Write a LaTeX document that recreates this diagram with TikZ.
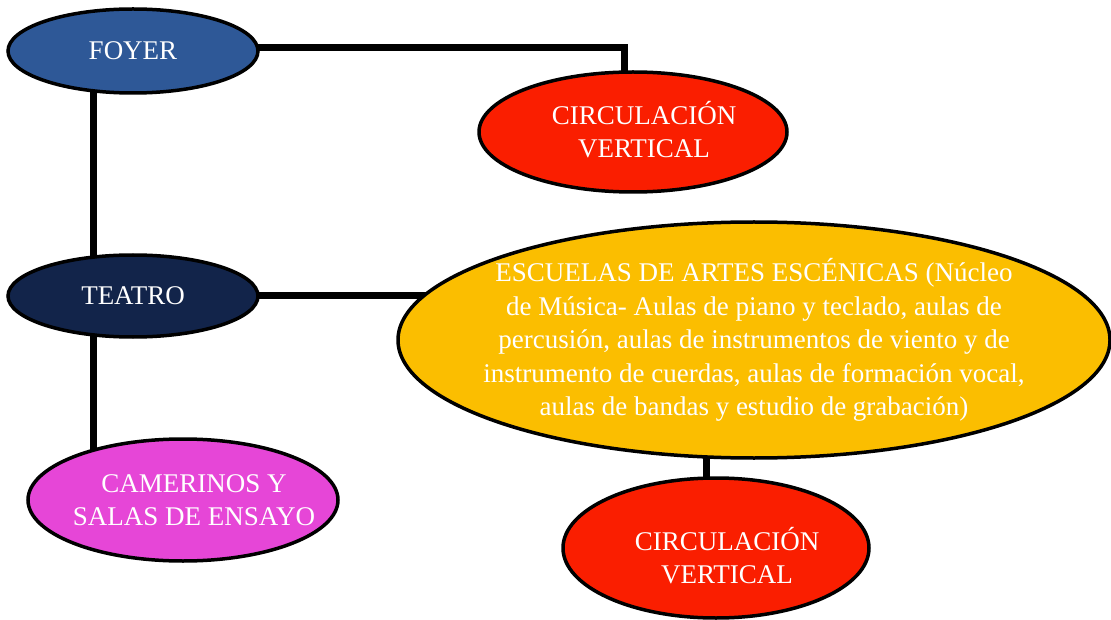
\documentclass[tikz,border=0pt]{standalone}
\usepackage{fontspec}
\setmainfont{Liberation Serif}
\usetikzlibrary{shapes.geometric,backgrounds}
\definecolor{foyerblue}{HTML}{2E5897}
\definecolor{teatronavy}{HTML}{12244A}
\definecolor{circred}{HTML}{FA1E00}
\definecolor{escyellow}{HTML}{FBBE00}
\definecolor{cammagenta}{HTML}{E646D7}
\newcommand{\sh}{\hspace*{22pt}}
\tikzset{
  bubble/.style={ellipse, draw=black, line width=3.5pt, inner xsep=-80pt, inner ysep=-40pt, align=center,
    text=white, font=\fontsize{27}{33}\selectfont},
  conn/.style={draw=black, line width=7pt},
}
\begin{document}
\begin{tikzpicture}[x=1pt,y=-1pt]
\useasboundingbox (0,0) rectangle (1111,620);
\node[bubble, fill=foyerblue, minimum width=250pt, minimum height=84pt] (foyer) at (133,51) {FOYER};
\node[bubble, fill=circred, minimum width=308pt, minimum height=120pt] (circ1) at (633,132) {\sh CIRCULACIÓN\\\sh VERTICAL\rule[-6pt]{0pt}{1pt}};
\node[bubble, fill=teatronavy, minimum width=250pt, minimum height=82pt] (teatro) at (133,296) {TEATRO};
\node[bubble, fill=escyellow, minimum width=712pt, minimum height=236pt, font=\fontsize{27}{33.5}\selectfont] (escuelas) at (754,340)
  {ESCUELAS DE ARTES ESCÉNICAS (Núcleo\\de Música- Aulas de piano y teclado, aulas de\\percusión, aulas de instrumentos de viento y de\\instrumento de cuerdas, aulas de formación vocal,\\aulas de bandas y estudio de grabación)};
\node[bubble, fill=cammagenta, minimum width=310pt, minimum height=122pt] (camerinos) at (183,500) {\sh CAMERINOS Y\\\sh SALAS DE ENSAYO};
\node[bubble, fill=circred, minimum width=306pt, minimum height=140pt] (circ2) at (716,548) {\rule{0pt}{39pt}\sh CIRCULACIÓN\\\sh VERTICAL};
\begin{pgfonlayer}{background}
\draw[conn] ([yshift=3pt]foyer.center) -| ([xshift=-9pt]circ1.center);
\draw[conn] ([xshift=-40pt]foyer.center) -- ([xshift=-40pt]teatro.center);
\draw[conn] (teatro.center) -- (teatro.center -| escuelas.center);
\draw[conn] ([xshift=-40pt]teatro.center) -- ([xshift=-90pt]camerinos.center);
\draw[conn] ([xshift=-48pt]escuelas.center) -- ([xshift=-10pt]circ2.center);
\end{pgfonlayer}
\end{tikzpicture}
\end{document}
